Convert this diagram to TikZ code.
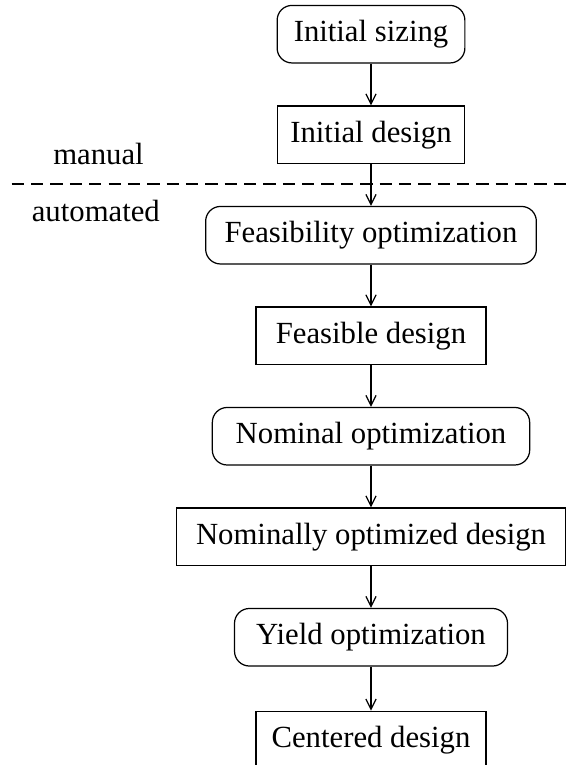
\documentclass[tikz,border=0pt]{standalone}
\usepackage{fontspec}
\setmainfont{Liberation Serif}
\usetikzlibrary{arrows.meta}
\begin{document}
\begin{tikzpicture}[>={Straight Barb[length=3.3pt,width=3.3pt]}]

	\tikzstyle{optim}=[rectangle, draw, rounded corners=0.17cm, minimum height=0.658cm, inner sep=0pt]
	\tikzstyle{design}=[rectangle, draw, minimum height=0.658cm, inner sep=0pt]
	\tikzstyle{phase}=[anchor=base]
	\tikzstyle{sep}=[dash pattern=on 4pt off 2.3pt]

	\useasboundingbox (0, 0) rectangle (6.519, -8.749);

	\coordinate (f_1) at (4.243, -0.391); % SIZING
	\coordinate (f_2) at (4.243, -1.541); % DESIGN
	\coordinate (f_3) at (4.243, -2.690); % FEASIBILITY
	\coordinate (f_4) at (4.243, -3.839); % FEASIBLE
	\coordinate (f_5) at (4.243, -4.989); % NOMINAL
	\coordinate (f_6) at (4.243, -6.138); % NOMINAL DESIGN
	\coordinate (f_7) at (4.243, -7.288); % YIELD
	\coordinate (f_8) at (4.243, -8.462); % CENTERED
	\coordinate (sep_l) at (0.134, -2.104);
	\coordinate (sep_r) at (6.600, -2.104);

	\node[phase] (manual) at (1.127, -1.881) {manual};
	\node[phase] (automated) at (1.096, -2.536) {automated};

	\node[optim, minimum width=2.147cm] (f_1) at (f_1) {Initial sizing\hspace{2.1pt}};
	\node[design, minimum width=2.139cm] (f_2) at (f_2) {Initial design};
	\node[optim, minimum width=3.782cm] (f_3) at (f_3) {Feasibility optimization\hspace{4.7pt}};
	\node[design, minimum width=2.631cm] (f_4) at (f_4) {Feasible design};
	\node[optim, minimum width=3.629cm] (f_5) at (f_5) {Nominal optimization\hspace{1.6pt}};
	\node[design, minimum width=4.441cm] (f_6) at (f_6) {Nominally optimized design\hspace{3.8pt}};
	\node[optim, minimum width=3.122cm] (f_7) at (f_7) {Yield optimization\hspace{3.6pt}};
	\node[design, minimum width=2.631cm] (f_8) at (f_8) {Centered design\hspace{1.2pt}};

	\draw[sep] (sep_l) -- (sep_r);

	\draw[->] (f_1) -- (f_2);
	\draw[->] (f_2) -- (f_3);
	\draw[->] (f_3) -- (f_4);
	\draw[->] (f_4) -- (f_5);
	\draw[->] (f_5) -- (f_6);
	\draw[->] (f_6) -- (f_7);
	\draw[->] (f_7) -- (f_8);
\end{tikzpicture}
\end{document}
